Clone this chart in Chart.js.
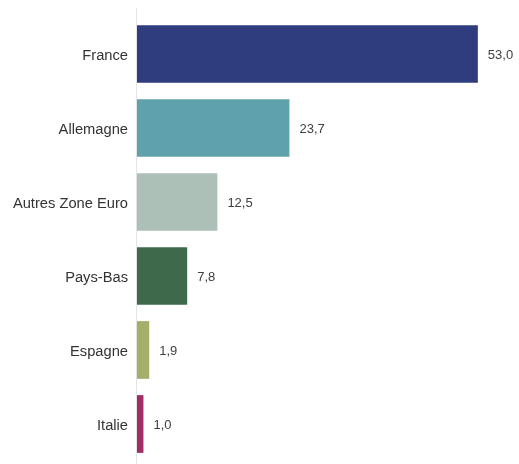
<!DOCTYPE html>
<html>
<head>
<meta charset="utf-8">
<script src="https://cdn.jsdelivr.net/npm/chart.js@4.4.0/dist/chart.umd.min.js"></script>
<style>
  html, body { margin: 0; padding: 0; background: #fff; }
  #wrap { width: 519px; height: 464px; }
</style>
</head>
<body>
<div id="wrap"><canvas id="c"></canvas></div>
<script>
const pays = ['France', 'Allemagne', 'Autres Zone Euro', 'Pays-Bas', 'Espagne', 'Italie']
const parts = [53.0, 23.7, 12.5, 7.8, 1.9, 1.0]
const couleurs = ['#2f3d7e', '#5fa1ac', '#adc0b7', '#3e6a4b', '#a3b06a', '#a22c66']

const fmt = v => v.toFixed(1).replace('.', ',')

// valeurs a droite des barres
const valeurs = {
  id: 'valeurs',
  afterDatasetsDraw(chart) {
    const ctx = chart.ctx
    ctx.save()
    ctx.font = '13px "Liberation Sans", Arial, sans-serif'
    ctx.fillStyle = '#404040'
    ctx.textBaseline = 'middle'
    chart.getDatasetMeta(0).data.forEach((bar, i) => {
      ctx.fillText(fmt(parts[i]), bar.x + 10, bar.y + 1)
    })
    ctx.restore()
  }
}

// ligne verticale de l'axe, un peu plus haute que la zone
const axe = {
  id: 'axe',
  afterDraw(chart) {
    const a = chart.chartArea
    const ctx = chart.ctx
    ctx.save()
    ctx.strokeStyle = '#e4e4e4'
    ctx.lineWidth = 1
    ctx.beginPath()
    ctx.moveTo(a.left - 0.5, 8)
    ctx.lineTo(a.left - 0.5, 464)
    ctx.stroke()
    ctx.restore()
  }
}

new Chart(document.getElementById('c'), {
  type: 'bar',
  data: {
    labels: pays,
    datasets: [{
      data: parts,
      backgroundColor: couleurs,
      borderWidth: 0,
      categoryPercentage: 0.78,
      barPercentage: 1
    }]
  },
  options: {
    indexAxis: 'y',
    responsive: true,
    maintainAspectRatio: false,
    animation: false,
    layout: { padding: { top: 17, bottom: 3, left: 0, right: 9 } },
    plugins: { legend: { display: false }, tooltip: { enabled: false } },
    scales: {
      x: {
        min: 0, max: 58,
        display: false
      },
      y: {
        grid: { display: false },
        border: { display: false },
        afterFit(s) {
          s.width = 137
          s.paddingTop = 0
          s.paddingBottom = 0
        },
        ticks: {
          color: '#333',
          padding: 1,
          labelOffset: 2,
          font: { family: '"Liberation Sans", Arial, sans-serif', size: 14.7 }
        }
      }
    }
  },
  plugins: [valeurs, axe]
})
</script>
</body>
</html>
